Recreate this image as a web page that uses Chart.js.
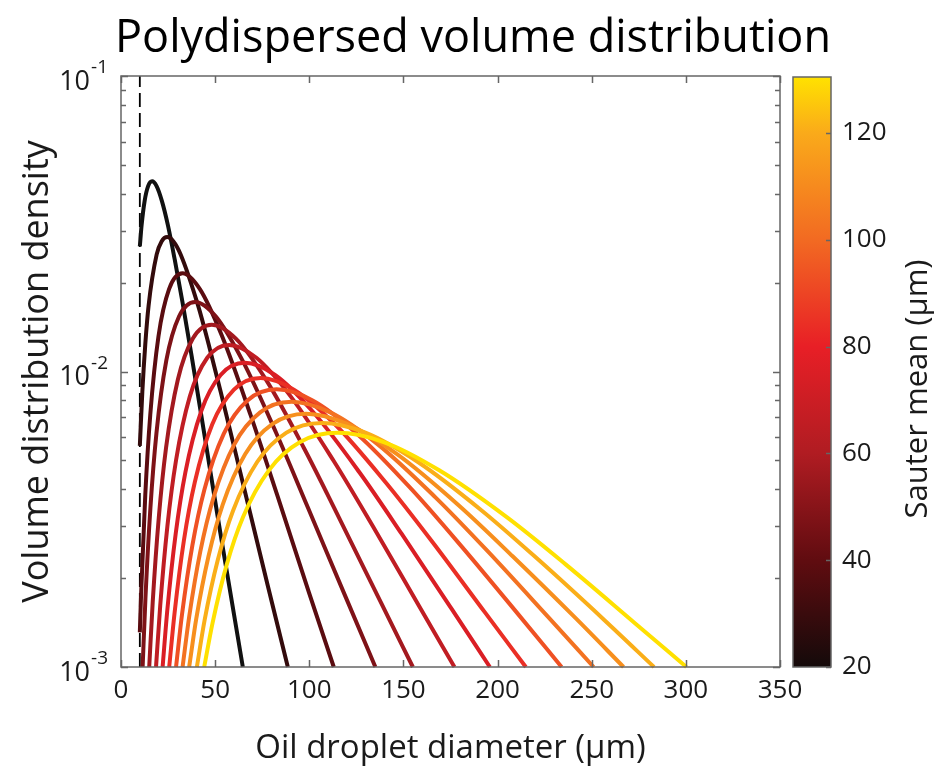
<!DOCTYPE html>
<html>
<head>
<meta charset="utf-8">
<script src="https://cdn.jsdelivr.net/npm/chart.js@4.4.1/dist/chart.umd.min.js"></script>
<style>
  html, body { margin: 0; padding: 0; background: #fff; }
  #wrap { position: relative; width: 937px; height: 780px; }
  #main { position: absolute; left: 0; top: 0; }
  #cbar { position: absolute; left: 780px; top: 0; }
</style>
</head>
<body>
<div id="wrap">
  <canvas id="main" width="937" height="780"></canvas>
  <canvas id="cbar" width="157" height="780"></canvas>
</div>
<script>
// Sauter mean of each curve (colorbar value)
const sauterMeans = [20, 29.2, 38.3, 47.5, 56.7, 65.8, 75, 84.2, 93.3, 102.5, 111.7, 120.8, 130];

// diameters (um) / volume distribution density
const d1x = [10, 10.95, 12.56, 14.4, 16.5, 18.9, 21.7, 24.9, 28.5, 32.7, 37.5, 46.0, 52.7, 56.5, 64.7];
const d1y = [0.0265, 0.0313, 0.0378, 0.0424, 0.044, 0.0424, 0.0378, 0.0313, 0.024, 0.0171, 0.0113, 0.00524, 0.00286, 0.00205, 0.001];
const d2x = [10, 11.33, 12.89, 14.65, 18.95, 21.55, 24.5, 27.86, 31.68, 40.96, 46.58, 52.97, 64.2, 77.9, 88.6];
const d2y = [0.0056, 0.00853, 0.01234, 0.0167, 0.0249, 0.02756, 0.0285, 0.02756, 0.0249, 0.0167, 0.01234, 0.00853, 0.00433, 0.00189, 0.001];
const d3x = [10, 10.71, 12.9, 15.54, 19.91, 25.52, 32.7, 41.9, 53.7, 68.8, 82.9, 99.8, 113.0];
const d3y = [0.00131, 0.00179, 0.00383, 0.00713, 0.01316, 0.019, 0.0215, 0.019, 0.01316, 0.00713, 0.00383, 0.00179, 0.001];
const d4x = [11.49, 13.0, 15.64, 18.82, 24.07, 30.8, 39.4, 50.4, 64.5, 82.5, 99.2, 119.4, 135.1];
const d4y = [0.001, 0.00172, 0.00347, 0.00618, 0.0109, 0.01535, 0.0172, 0.01535, 0.0109, 0.00618, 0.00347, 0.00172, 0.001];
const d5x = [14.99, 16.85, 20.08, 23.91, 30.21, 38.16, 48.2, 60.88, 76.9, 97.15, 115.7, 137.9, 155.0];
const d5y = [0.001, 0.00166, 0.00321, 0.00551, 0.0094, 0.01294, 0.0144, 0.01294, 0.0094, 0.00551, 0.00321, 0.00166, 0.001];
const d6x = [18.6, 20.82, 24.65, 29.19, 36.57, 45.82, 57.4, 71.9, 90.1, 112.9, 133.7, 158.3, 177.1];
const d6y = [0.001, 0.00161, 0.003, 0.00499, 0.00824, 0.01113, 0.0123, 0.01113, 0.00824, 0.00499, 0.003, 0.00161, 0.001];
const d7x = [22.1, 24.65, 29.03, 34.19, 42.53, 52.9, 65.8, 81.8, 101.8, 126.6, 149.1, 175.7, 195.9];
const d7y = [0.001, 0.00157, 0.00282, 0.00456, 0.00732, 0.00973, 0.0107, 0.00973, 0.00732, 0.00456, 0.00282, 0.00157, 0.001];
const d8x = [25.6, 28.48, 33.4, 39.19, 48.48, 59.98, 74.2, 91.8, 113.6, 140.5, 164.8, 193.3, 215.0];
const d8y = [0.001, 0.00153, 0.00268, 0.00422, 0.00663, 0.00868, 0.0095, 0.00868, 0.00663, 0.00422, 0.00268, 0.00153, 0.001];
const d9x = [29.23, 32.43, 37.91, 44.31, 54.55, 67.17, 82.7, 101.8, 125.4, 154.4, 180.4, 210.9, 234.0];
const d9y = [0.001, 0.00151, 0.00258, 0.00399, 0.00615, 0.00798, 0.0087, 0.00798, 0.00615, 0.00399, 0.00258, 0.00151, 0.001];
const d10x = [32.71, 36.21, 42.19, 49.16, 60.27, 73.89, 90.6, 111.1, 136.2, 167.0, 194.6, 226.7, 251.0];
const d10y = [0.001, 0.00148, 0.00247, 0.00375, 0.00568, 0.00727, 0.0079, 0.00727, 0.00568, 0.00375, 0.00247, 0.00148, 0.001];
const d11x = [36.2, 40.0, 46.47, 53.98, 65.92, 80.5, 98.3, 120.0, 146.6, 179.0, 208.0, 241.6, 266.9];
const d11y = [0.001, 0.00146, 0.00237, 0.00354, 0.00525, 0.00665, 0.0072, 0.00665, 0.00525, 0.00354, 0.00237, 0.00146, 0.001];
const d12x = [40.29, 44.41, 51.4, 59.5, 72.31, 87.88, 106.8, 129.8, 157.7, 191.7, 221.9, 256.8, 283.1];
const d12y = [0.001, 0.00144, 0.0023, 0.00338, 0.00494, 0.00621, 0.0067, 0.00621, 0.00494, 0.00338, 0.0023, 0.00144, 0.001];
const d13x = [44.2, 48.64, 56.15, 64.83, 78.53, 95.11, 115.2, 139.5, 169.0, 204.7, 236.3, 272.8, 300.3];
const d13y = [0.001, 0.00141, 0.00222, 0.00322, 0.00463, 0.00577, 0.0062, 0.00577, 0.00463, 0.00322, 0.00222, 0.00141, 0.001];

// lower size limit (dashed line)
const cutoffX = [10, 10];
const cutoffY = [0.001, 0.1];

// tick values
const xTicks = [0, 50, 100, 150, 200, 250, 300, 350];
const yTicks = [0.001, 0.002, 0.003, 0.004, 0.005, 0.006, 0.007, 0.008, 0.009,
                0.01, 0.02, 0.03, 0.04, 0.05, 0.06, 0.07, 0.08, 0.09, 0.1];
const yTickExp = {0.001: '-3', 0.01: '-2', 0.1: '-1'};   // labels 10^-3, 10^-2, 10^-1
const cbTicks = [20, 40, 60, 80, 100, 120];
const cbMin = 20, cbMax = 130.5;

// colormap (colorbar) and line colours
const cmapStops = [20, 40, 60, 80, 100, 120, 130.5];
const cmapColors = ['#140a0a', '#600c10', '#b01c22', '#e81f26', '#f26a22', '#faaa1a', '#ffe200'];
const lineColors = ['#111111', '#330b0c', '#5a0c10', '#7e1217', '#a3191f', '#c01d23', '#da1e25',
                    '#ea2f25', '#ef5123', '#f37221', '#f78f1d', '#faae18', '#ffe000'];

const FONT = 'Open Sans';
const AXIS = '#666666';
const TEXT = '#1a1a1a';

const curvesX = [d1x, d2x, d3x, d4x, d5x, d6x, d7x, d8x, d9x, d10x, d11x, d12x, d13x];
const curvesY = [d1y, d2y, d3y, d4y, d5y, d6y, d7y, d8y, d9y, d10y, d11y, d12y, d13y];

const datasets = curvesX.map((xs, i) => ({
  label: 'D32 = ' + sauterMeans[i],
  data: xs.map((x, j) => ({x: x, y: curvesY[i][j]})),
  borderColor: lineColors[i],
  borderWidth: 4,
  pointRadius: 0,
  fill: false,
  cubicInterpolationMode: 'monotone',
  order: curvesX.length - i   // later curves on top
}));
datasets.push({
  label: 'cutoff',
  data: cutoffX.map((x, j) => ({x: x, y: cutoffY[j]})),
  borderColor: '#000',
  borderWidth: 1.8,
  borderDash: [14, 6],
  pointRadius: 0,
  fill: false,
  order: 100
});

// box, inward tick marks and 10^n labels, matlab style
const axesBox = {
  id: 'axesBox',
  afterDatasetsDraw(chart) {
    const {ctx, chartArea: a, scales} = chart;
    ctx.save();
    ctx.strokeStyle = AXIS;
    ctx.lineWidth = 1.5;
    ctx.beginPath();
    scales.x.ticks.forEach(t => {
      const px = Math.round(scales.x.getPixelForValue(t.value)) + 0.5;
      ctx.moveTo(px, a.bottom); ctx.lineTo(px, a.bottom - 7);
      ctx.moveTo(px, a.top); ctx.lineTo(px, a.top + 7);
    });
    scales.y.ticks.forEach(t => {
      const py = Math.round(scales.y.getPixelForValue(t.value)) + 0.5;
      const len = yTickExp[t.value] ? 7 : 5;
      ctx.moveTo(a.left, py); ctx.lineTo(a.left + len, py);
      ctx.moveTo(a.right, py); ctx.lineTo(a.right - len, py);
    });
    ctx.stroke();
    ctx.strokeRect(a.left, a.top, a.right - a.left, a.bottom - a.top);

    // y labels: "10" with a raised exponent
    ctx.fillStyle = TEXT;
    ctx.textBaseline = 'middle';
    scales.y.ticks.forEach(t => {
      const e = yTickExp[t.value];
      if (!e) return;
      const py = scales.y.getPixelForValue(t.value);
      const right = a.left - 13;
      ctx.font = '19px "' + FONT + '"';
      ctx.textAlign = 'right';
      ctx.fillText(e, right, py - 8);
      const ew = ctx.measureText(e).width;
      ctx.font = '27px "' + FONT + '"';
      ctx.fillText('10', right - ew - 1, py + 6);
    });
    ctx.restore();
  }
};

new Chart(document.getElementById('main'), {
  type: 'line',
  data: {datasets: datasets},
  options: {
    responsive: false,
    animation: false,
    layout: {padding: {left: 9, right: 0, top: 0, bottom: 0}},
    plugins: {
      legend: {display: false},
      tooltip: {enabled: false},
      title: {
        display: true,
        text: 'Polydispersed volume distribution',
        color: '#000',
        font: {family: FONT, size: 45, weight: 'normal'},
        padding: {top: 12, bottom: 10}
      }
    },
    clip: {left: 2, right: 2, top: 2, bottom: 3},
    scales: {
      x: {
        type: 'linear', min: 0, max: 350,
        grid: {display: false, drawTicks: false}, border: {display: false},
        afterBuildTicks: s => { s.ticks = xTicks.map(v => ({value: v})); },
        afterFit: s => { s.height = 113; },
        ticks: {color: TEXT, font: {family: FONT, size: 26}, padding: 8, maxRotation: 0, autoSkip: false},
        title: {display: true, text: 'Oil droplet diameter (\u03BCm)', color: TEXT,
                font: {family: FONT, size: 33}, padding: {top: 0, bottom: 12}}
      },
      y: {
        type: 'logarithmic', min: 0.001, max: 0.1,
        grid: {display: false, drawTicks: false}, border: {display: false},
        afterBuildTicks: s => { s.ticks = yTicks.map(v => ({value: v})); },
        afterFit: s => { s.width = 112; },
        ticks: {display: false, autoSkip: false},
        title: {display: true, text: 'Volume distribution density', color: TEXT,
                font: {family: FONT, size: 36}, padding: {top: 7, bottom: 0}}
      },
      // empty right-hand box that keeps room for the colorbar
      yr: {
        type: 'linear', position: 'right', display: true,
        grid: {display: false, drawTicks: false}, border: {display: false},
        ticks: {display: false},
        afterFit: s => { s.width = 157; }
      }
    }
  },
  plugins: [axesBox]
});

// colorbar
const cbarDeco = {
  id: 'cbarDeco',
  afterDraw(chart) {
    const {ctx, chartArea: a, scales} = chart;
    ctx.save();
    ctx.strokeStyle = AXIS;
    ctx.lineWidth = 1.5;
    ctx.beginPath();
    cbTicks.forEach(v => {
      const py = Math.round(scales.y.getPixelForValue(v)) + 0.5;
      ctx.moveTo(a.right, py); ctx.lineTo(a.right - 5, py);
    });
    ctx.stroke();
    ctx.strokeRect(a.left, a.top, a.right - a.left, a.bottom - a.top);
    ctx.translate(138, 389);
    ctx.rotate(-Math.PI / 2);
    ctx.fillStyle = TEXT;
    ctx.font = '31px "' + FONT + '"';
    ctx.textAlign = 'center';
    ctx.textBaseline = 'middle';
    ctx.fillText('Sauter mean (\u03BCm)', 0, 0);
    ctx.restore();
  }
};

new Chart(document.getElementById('cbar'), {
  type: 'bar',
  data: {
    labels: ['cb'],
    datasets: [{
      data: [[cbMin, cbMax]],
      barPercentage: 1,
      categoryPercentage: 1,
      backgroundColor: c => {
        const chart = c.chart;
        const y = chart.scales.y;
        if (!chart.chartArea || !y) return cmapColors[0];
        const g = chart.ctx.createLinearGradient(0, y.getPixelForValue(cbMin), 0, y.getPixelForValue(cbMax));
        cmapStops.forEach((v, i) => g.addColorStop((v - cbMin) / (cbMax - cbMin), cmapColors[i]));
        return g;
      }
    }]
  },
  options: {
    responsive: false,
    animation: false,
    layout: {padding: {left: 13, right: 0, top: 77, bottom: 113}},
    plugins: {legend: {display: false}, tooltip: {enabled: false}},
    scales: {
      x: {display: false},
      y: {
        position: 'right', min: cbMin, max: cbMax,
        grid: {display: false, drawTicks: false}, border: {display: false},
        afterBuildTicks: s => { s.ticks = cbTicks.map(v => ({value: v})); },
        afterFit: s => { s.width = 106; },
        ticks: {color: TEXT, font: {family: FONT, size: 26}, padding: 11, autoSkip: false}
      }
    }
  },
  plugins: [cbarDeco]
});
</script>
</body>
</html>
